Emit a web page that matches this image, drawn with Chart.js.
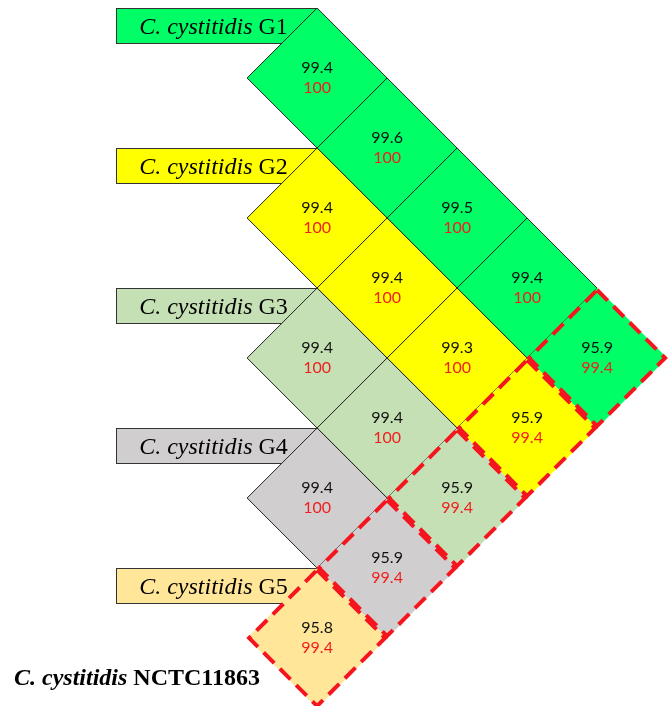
<!DOCTYPE html>
<html><head><meta charset="utf-8">
<script src="https://cdn.jsdelivr.net/npm/chart.js@4"></script>
<style>html,body{margin:0;padding:0;background:#fff}canvas{display:block}</style>
</head><body>
<canvas id="c" width="672" height="706"></canvas>
<script>
// ---- data ----
const species = 'C. cystitidis';
const groups = ['G1', 'G2', 'G3', 'G4', 'G5'];
const referenceStrain = 'NCTC11863';
// row i = group i compared with group i+1 ... and finally the reference strain
const upperValues = [
  [99.4, 99.6, 99.5, 99.4, 95.9],
  [99.4, 99.4, 99.3, 95.9],
  [99.4, 99.4, 95.9],
  [99.4, 95.9],
  [95.8]
];
const lowerValues = [
  [100, 100, 100, 100, 99.4],
  [100, 100, 100, 99.4],
  [100, 100, 99.4],
  [100, 99.4],
  [99.4]
];

// ---- styles ----
const groupColors = ['#00FF66', '#FFFF00', '#C5E0B4', '#D0CECE', '#FFE699'];

const cells = [];
groups.forEach((g, i) => {
  upperValues[i].forEach((v, j) => {
    const partner = i + j + 1;
    cells.push({ x: j, y: 2 * i + j, row: i, upper: v, lower: lowerValues[i][j], ref: partner === groups.length });
  });
});

function unitPx(chart) {
  const s = chart.scales && chart.scales.x;
  if (!s) return 70;
  return Math.abs(s.getPixelForValue(1) - s.getPixelForValue(0));
}

const labelPlugin = {
  id: 'labels',
  beforeDatasetsDraw(chart) {
    const { ctx, scales: { x, y } } = chart;
    const u = unitPx(chart);
    ctx.save();
    groups.forEach((g, i) => {
      const right = x.getPixelForValue(0);
      const top = y.getPixelForValue(2 * i - 1);
      const left = x.getPixelForValue(-2.87);
      const h = u / 2;
      ctx.fillStyle = groupColors[i];
      ctx.fillRect(left, top, right - left, h);
      ctx.strokeStyle = '#333';
      ctx.lineWidth = 1;
      ctx.strokeRect(Math.round(left) + 0.5, Math.round(top) + 0.5, right - left, h);
      ctx.fillStyle = '#000';
      ctx.textBaseline = 'alphabetic';
      ctx.textAlign = 'left';
      ctx.font = 'italic 24px "Liberation Serif", "Times New Roman", serif';
      const tx = left + 23, ty = top + 26;
      ctx.fillText(species + ' ', tx, ty);
      const w = ctx.measureText(species + ' ').width;
      ctx.font = '24px "Liberation Serif", "Times New Roman", serif';
      ctx.fillText(g, tx + w, ty);
    });
    // reference strain label
    const bx = x.getPixelForValue(-4.33), by = y.getPixelForValue(8.67);
    ctx.font = 'bold italic 24px "Liberation Serif", "Times New Roman", serif';
    ctx.fillText(species + ' ', bx, by);
    const w2 = ctx.measureText(species + ' ').width;
    ctx.font = 'bold 24px "Liberation Serif", "Times New Roman", serif';
    ctx.fillText(referenceStrain, bx + w2, by);
    ctx.restore();
  },
  afterDatasetsDraw(chart) {
    const { ctx } = chart;
    const meta = chart.getDatasetMeta(0);
    const r = unitPx(chart);
    ctx.save();
    // dashed borders for reference-strain comparisons
    meta.data.forEach((el, k) => {
      const c = cells[k];
      if (!c.ref) return;
      const rr = r - 2;
      ctx.beginPath();
      ctx.moveTo(el.x, el.y - rr);
      ctx.lineTo(el.x + rr, el.y);
      ctx.lineTo(el.x, el.y + rr);
      ctx.lineTo(el.x - rr, el.y);
      ctx.closePath();
      ctx.setLineDash([15, 8]);
      ctx.lineWidth = 4;
      ctx.strokeStyle = '#F5151E';
      ctx.stroke();
    });
    ctx.setLineDash([]);
    // values
    ctx.textAlign = 'center';
    ctx.textBaseline = 'middle';
    ctx.font = '16px Lato, "Open Sans", sans-serif';
    meta.data.forEach((el, k) => {
      const c = cells[k];
      ctx.fillStyle = '#111';
      ctx.fillText(c.upper.toFixed(1), el.x, el.y - 10);
      ctx.fillStyle = '#F01E1E';
      ctx.fillText(String(c.lower), el.x, el.y + 10);
    });
    ctx.restore();
  }
};

new Chart(document.getElementById('c'), {
  type: 'scatter',
  data: {
    datasets: [{
      data: cells,
      pointStyle: 'rectRot',
      pointRadius: ctx => unitPx(ctx.chart),
      pointHoverRadius: ctx => unitPx(ctx.chart),
      backgroundColor: ctx => groupColors[ctx.raw ? ctx.raw.row : 0],
      borderColor: ctx => (ctx.raw && ctx.raw.ref) ? 'rgba(0,0,0,0)' : '#222',
      borderWidth: 1,
      clip: false
    }]
  },
  options: {
    responsive: false,
    animation: false,
    events: [],
    layout: { padding: 0 },
    plugins: { legend: { display: false }, tooltip: { enabled: false } },
    scales: {
      x: { type: 'linear', min: -4.53, max: 5.07, display: false },
      y: { type: 'linear', reverse: true, min: -1.114, max: 8.971, display: false }
    }
  },
  plugins: [labelPlugin]
});
</script>
</body></html>
